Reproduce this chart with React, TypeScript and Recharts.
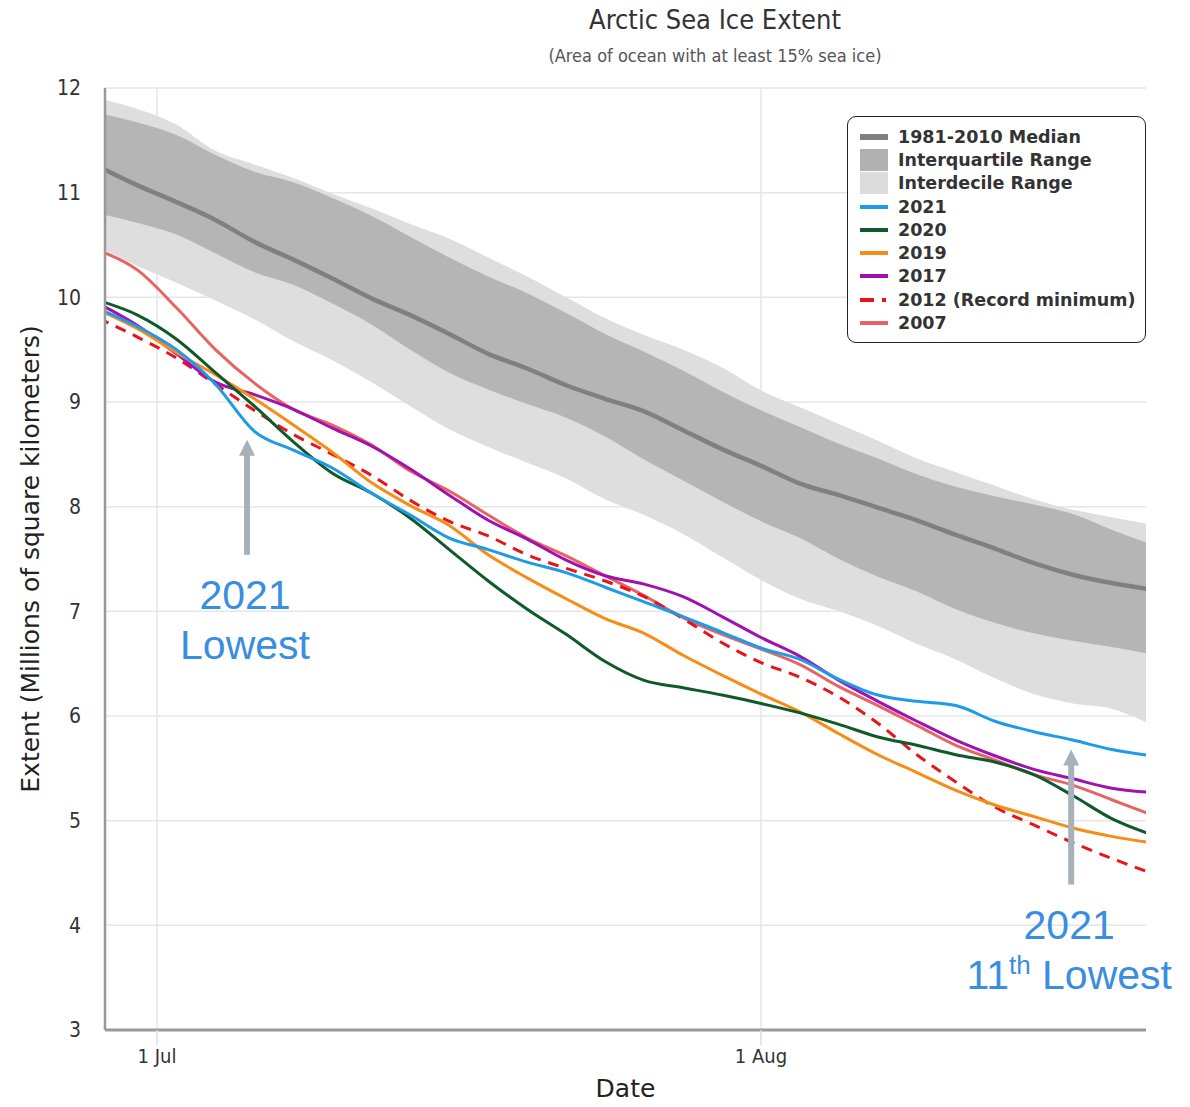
import {
  ComposedChart,
  Area,
  Line,
  XAxis,
  YAxis,
  CartesianGrid,
  ReferenceLine,
  Label,
} from 'recharts';

// day 0 = 1 Jul, sampled every 2 days
const days = [-3, -1, 1, 3, 5, 7, 9, 11, 13, 15, 17, 19, 21, 23, 25, 27, 29, 31, 33, 35, 37, 39, 41, 43, 45, 47, 49, 51];

const median = [11.25, 11.07, 10.91, 10.74, 10.53, 10.36, 10.18, 9.99, 9.83, 9.65, 9.46, 9.32, 9.16, 9.03, 8.91, 8.73, 8.55, 8.39, 8.22, 8.11, 7.99, 7.87, 7.73, 7.6, 7.46, 7.35, 7.27, 7.21];
const iqHigh = [11.76, 11.67, 11.55, 11.36, 11.2, 11.1, 10.95, 10.78, 10.58, 10.38, 10.2, 10.04, 9.85, 9.65, 9.48, 9.3, 9.1, 8.92, 8.76, 8.6, 8.46, 8.31, 8.19, 8.1, 8.02, 7.93, 7.78, 7.64];
const iqLow = [10.8, 10.71, 10.6, 10.42, 10.24, 10.12, 9.94, 9.74, 9.5, 9.28, 9.12, 8.98, 8.85, 8.67, 8.45, 8.25, 8.05, 7.86, 7.7, 7.5, 7.33, 7.19, 7.02, 6.89, 6.79, 6.72, 6.66, 6.59];
const idHigh = [11.9, 11.8, 11.65, 11.4, 11.27, 11.14, 10.99, 10.85, 10.7, 10.56, 10.38, 10.2, 10.0, 9.8, 9.64, 9.5, 9.33, 9.11, 8.95, 8.79, 8.63, 8.46, 8.33, 8.2, 8.07, 7.97, 7.9, 7.83];
const idLow = [10.48, 10.3, 10.14, 9.97, 9.79, 9.58, 9.4, 9.19, 8.96, 8.74, 8.57, 8.42, 8.27, 8.07, 7.92, 7.74, 7.52, 7.3, 7.12, 7.0, 6.86, 6.69, 6.54, 6.36, 6.21, 6.12, 6.07, 5.92];

const y2021 = [9.89, 9.72, 9.5, 9.17, 8.72, 8.54, 8.37, 8.13, 7.92, 7.7, 7.59, 7.47, 7.37, 7.23, 7.09, 6.95, 6.8, 6.65, 6.54, 6.35, 6.2, 6.14, 6.1, 5.95, 5.85, 5.77, 5.68, 5.62];
const y2020 = [9.97, 9.83, 9.6, 9.28, 8.96, 8.62, 8.32, 8.13, 7.89, 7.59, 7.29, 7.02, 6.78, 6.52, 6.34, 6.27, 6.2, 6.12, 6.03, 5.92, 5.8, 5.72, 5.63, 5.56, 5.44, 5.24, 5.02, 4.87];
const y2019 = [9.88, 9.7, 9.47, 9.26, 9.03, 8.78, 8.52, 8.23, 8.01, 7.82, 7.54, 7.32, 7.12, 6.93, 6.79, 6.58, 6.39, 6.21, 6.04, 5.83, 5.63, 5.46, 5.29, 5.15, 5.04, 4.93, 4.85, 4.79];
const y2017 = [9.94, 9.73, 9.46, 9.19, 9.07, 8.93, 8.75, 8.58, 8.36, 8.11, 7.87, 7.69, 7.49, 7.34, 7.26, 7.14, 6.95, 6.75, 6.57, 6.34, 6.14, 5.95, 5.77, 5.62, 5.49, 5.4, 5.31, 5.27];
const y2012 = [9.8, 9.62, 9.42, 9.17, 8.92, 8.69, 8.5, 8.3, 8.06, 7.86, 7.72, 7.54, 7.41, 7.29, 7.14, 6.93, 6.7, 6.51, 6.37, 6.18, 5.93, 5.63, 5.37, 5.13, 4.96, 4.79, 4.64, 4.5];
const y2007 = [10.45, 10.26, 9.9, 9.5, 9.18, 8.93, 8.78, 8.59, 8.34, 8.15, 7.92, 7.7, 7.53, 7.34, 7.15, 6.94, 6.78, 6.64, 6.49, 6.28, 6.1, 5.91, 5.72, 5.58, 5.44, 5.34, 5.2, 5.06];

const yTicks = [3, 4, 5, 6, 7, 8, 9, 10, 11, 12];
const xTicks = [0, 31];
const xTickLabels: Record<number, string> = { 0: '1 Jul', 31: '1 Aug' };

const data = days.map((d, i) => ({
  day: d,
  median: median[i],
  iq: [iqLow[i], iqHigh[i]],
  id: [idLow[i], idHigh[i]],
  y2021: y2021[i],
  y2020: y2020[i],
  y2019: y2019[i],
  y2017: y2017[i],
  y2012: y2012[i],
  y2007: y2007[i],
}));

const years = [
  { key: 'y2007', name: '2007', color: '#e86464', dash: undefined },
  { key: 'y2012', name: '2012 (Record minimum)', color: '#e8141a', dash: '11 8' },
  { key: 'y2017', name: '2017', color: '#a012b0', dash: undefined },
  { key: 'y2019', name: '2019', color: '#f78c16', dash: undefined },
  { key: 'y2020', name: '2020', color: '#0f5a2a', dash: undefined },
  { key: 'y2021', name: '2021', color: '#1e9be8', dash: undefined },
];

const legendItems = [
  { name: '1981-2010 Median', kind: 'line', color: '#808080', h: 6 },
  { name: 'Interquartile Range', kind: 'box', color: '#b0b0b0', h: 22 },
  { name: 'Interdecile Range', kind: 'box', color: '#dcdcdc', h: 22 },
  { name: '2021', kind: 'line', color: '#1e9be8', h: 4 },
  { name: '2020', kind: 'line', color: '#0f5a2a', h: 4 },
  { name: '2019', kind: 'line', color: '#f78c16', h: 4 },
  { name: '2017', kind: 'line', color: '#a012b0', h: 4 },
  { name: '2012 (Record minimum)', kind: 'dash', color: '#e8141a', h: 4 },
  { name: '2007', kind: 'line', color: '#e86464', h: 4 },
];

const annoColor = '#3a8ee0';
const arrowColor = '#a7b1b8';
const narrow = "'Liberation Sans Narrow', 'DejaVu Sans Condensed', sans-serif";

const LegendBox = () => (
  <div
    style={{
      position: 'absolute',
      left: 839,
      top: 108,
      width: 299,
      height: 227,
      border: '1.5px solid #222',
      borderRadius: 9,
      background: '#fff',
      boxSizing: 'border-box',
      padding: '8px 0 0 12px',
      fontFamily: 'DejaVu Sans, sans-serif',
      fontWeight: 'bold',
      fontSize: 17.5,
      color: '#333',
      whiteSpace: 'nowrap',
    }}
  >
    {legendItems.map((it) => (
      <div key={it.name} style={{ display: 'flex', alignItems: 'center', height: 23.3 }}>
        <div style={{ width: 28, marginRight: 10, display: 'flex', alignItems: 'center', flexShrink: 0 }}>
          {it.kind === 'dash' ? (
            <>
              <div style={{ width: 14, height: 4, background: it.color }} />
              <div style={{ width: 8 }} />
              <div style={{ width: 4, height: 4, background: it.color }} />
            </>
          ) : (
            <div style={{ width: 28, height: it.h, background: it.color }} />
          )}
        </div>
        <span>{it.name}</span>
      </div>
    ))}
  </div>
);

function makeArrow(lines: { text: string; sup?: string; rest?: string }[]) {
  return (props: any) => {
    const { x1, y1, y2 } = props;
    const bottom = Math.max(y1, y2);
    const tip = Math.min(y1, y2);
    return (
      <g>
        <line x1={x1} y1={bottom} x2={x1} y2={tip + 14} stroke={arrowColor} strokeWidth={6} />
        <polygon points={`${x1 - 8},${tip + 16} ${x1 + 8},${tip + 16} ${x1},${tip}`} fill={arrowColor} />
        {lines.map((l, i) => (
          <text
            key={i}
            x={x1 - 2}
            y={bottom + 54 + i * 50}
            textAnchor="middle"
            fill={annoColor}
            fontSize={41}
            fontFamily="Liberation Sans, Arial, sans-serif"
          >
            {l.sup ? (
              <>
                <tspan>{l.text}</tspan>
                <tspan dy={-15} fontSize={26}>{l.sup}</tspan>
                <tspan dy={15}>{l.rest}</tspan>
              </>
            ) : (
              l.text
            )}
          </text>
        ))}
      </g>
    );
  };
}

const yLabel = (props: any) => {
  const { viewBox } = props;
  const cx = 22;
  const cy = viewBox.y + viewBox.height / 2;
  return (
    <text
      x={cx}
      y={cy}
      transform={`rotate(-90, ${cx}, ${cy})`}
      textAnchor="middle"
      dominantBaseline="central"
      fontSize={25}
      fill="#222"
      fontFamily="DejaVu Sans, sans-serif"
    >
      Extent (Millions of square kilometers)
    </text>
  );
};

const App = () => {
  return (
    <div style={{ position: 'relative', width: 1182, height: 1099 }}>
      <div
        style={{
          position: 'absolute',
          left: 0,
          width: 1414,
          top: -4,
          textAlign: 'center',
          fontSize: 27,
          color: '#333',
          fontFamily: narrow,
        }}
      >
        Arctic Sea Ice Extent
      </div>
      <div
        style={{
          position: 'absolute',
          left: 0,
          width: 1414,
          top: 37,
          textAlign: 'center',
          fontSize: 18,
          color: '#555',
          fontFamily: narrow,
        }}
      >
        (Area of ocean with at least 15% sea ice)
      </div>
      <ComposedChart width={1182} height={1099} data={data} margin={{ top: 80, right: 44, bottom: 0, left: 0 }}>
        <CartesianGrid stroke="#e6e6e6" strokeWidth={1.5} verticalValues={xTicks} />
        <XAxis
          dataKey="day"
          type="number"
          domain={[-2.67, 50.76]}
          allowDataOverflow
          ticks={xTicks}
          tickFormatter={(v: number) => xTickLabels[v]}
          height={77}
          axisLine={{ stroke: '#999', strokeWidth: 3 }}
          tickLine={{ stroke: '#ddd', strokeWidth: 1.5 }}
          tickSize={15}
          tickMargin={4}
          tick={{ fontSize: 20, fill: '#333', fontFamily: narrow }}
        >
          <Label
            value="Date"
            position="insideBottom"
            offset={10}
            fontSize={25}
            fill="#222"
            fontFamily="DejaVu Sans, sans-serif"
          />
        </XAxis>
        <YAxis
          type="number"
          domain={[3, 12]}
          ticks={yTicks}
          allowDataOverflow
          width={97}
          axisLine={{ stroke: '#999', strokeWidth: 2.5 }}
          tickLine={false}
          tickSize={0}
          tickMargin={24}
          tick={{ fontSize: 21, fill: '#333', fontFamily: narrow }}
        >
          <Label content={yLabel} />
        </YAxis>
        <Area
          dataKey="id"
          type="monotone"
          stroke="none"
          fill="#dedede"
          fillOpacity={1}
          isAnimationActive={false}
          activeDot={false}
        />
        <Area
          dataKey="iq"
          type="monotone"
          stroke="none"
          fill="#b5b5b5"
          fillOpacity={1}
          isAnimationActive={false}
          activeDot={false}
        />
        <Line dataKey="median" type="monotone" stroke="#808080" strokeWidth={4.5} dot={false} isAnimationActive={false} />
        {years.map((s) => (
          <Line
            key={s.key}
            dataKey={s.key}
            name={s.name}
            type="monotone"
            stroke={s.color}
            strokeWidth={3}
            strokeDasharray={s.dash}
            dot={false}
            isAnimationActive={false}
          />
        ))}
        <ReferenceLine
          segment={[{ x: 4.62, y: 7.54 }, { x: 4.62, y: 8.64 }]}
          shape={makeArrow([{ text: '2021' }, { text: 'Lowest' }])}
        />
        <ReferenceLine
          segment={[{ x: 46.92, y: 4.39 }, { x: 46.92, y: 5.68 }]}
          shape={makeArrow([{ text: '2021' }, { text: '11', sup: 'th', rest: ' Lowest' }])}
        />
      </ComposedChart>
      <LegendBox />
    </div>
  );
};

export default App;
